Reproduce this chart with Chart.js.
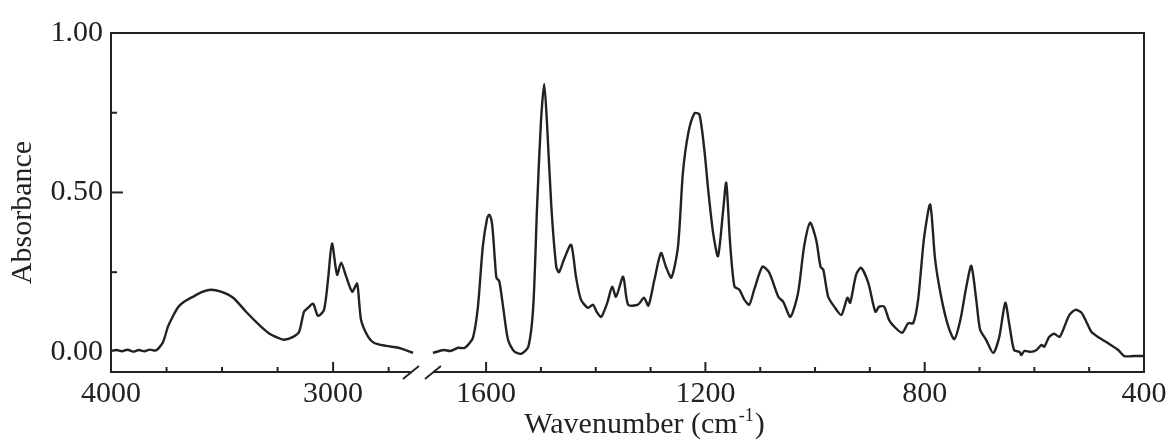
<!DOCTYPE html>
<html>
<head>
<meta charset="utf-8">
<script src="https://cdn.jsdelivr.net/npm/chart.js@4/dist/chart.umd.min.js"></script>
<style>
  body { margin: 0; background: #fff; }
  #wrap { width: 1172px; height: 445px; }
</style>
</head>
<body>
<div id="wrap"><canvas id="chart_ir"></canvas></div>
<script>
// IR spectrum, broken wavenumber axis (4000-2600 | 1717-400)

// high wavenumber part
var leftWn = [4000, 3975, 3950, 3925, 3900, 3875, 3850, 3825, 3800, 3785, 3766, 3743, 3721, 3698, 3671, 3631,
  3586, 3550, 3505, 3450, 3392, 3333, 3288, 3250, 3221, 3180, 3153, 3131, 3113, 3090, 3068, 3041, 3023, 3005,
  2982, 2964, 2941, 2914, 2892, 2874, 2842, 2815, 2761, 2707, 2670, 2640];
var leftAbs = [0.003, 0.006, 0.002, 0.007, 0.001, 0.006, 0.002, 0.007, 0.004, 0.012, 0.030, 0.080, 0.112, 0.140, 0.157, 0.173,
  0.189, 0.195, 0.189, 0.170, 0.126, 0.085, 0.058, 0.045, 0.038, 0.047, 0.063, 0.126, 0.138, 0.151, 0.113, 0.132, 0.226, 0.340,
  0.242, 0.280, 0.236, 0.189, 0.214, 0.100, 0.047, 0.028, 0.019, 0.013, 0.005, -0.003];

// fingerprint part
var rightWn = [1697, 1677, 1665, 1651, 1640, 1633, 1624, 1615, 1606, 1598, 1594, 1589, 1584, 1581, 1576, 1569, 1560, 1549,
  1536, 1523, 1514, 1507, 1500, 1494, 1489, 1481, 1472, 1467, 1458, 1445, 1436, 1427, 1414, 1405, 1398, 1390, 1379, 1370,
  1363, 1350, 1341, 1323, 1312, 1304, 1293, 1281, 1272, 1262, 1250, 1241, 1231, 1220, 1211, 1202, 1195, 1186, 1177, 1168,
  1162, 1155, 1147, 1138, 1129, 1120, 1111, 1096, 1084, 1067, 1058, 1045, 1031, 1020, 1009, 998, 990, 985, 976, 965, 952,
  941, 936, 925, 916, 903, 890, 883, 874, 865, 856, 841, 830, 821, 812, 801, 790, 781, 770, 757, 746, 735, 724, 715, 706,
  699, 688, 675, 664, 653, 646, 637, 627, 624, 618, 607, 596, 587, 582, 573, 564, 554, 545, 536, 525, 514, 505, 496, 484,
  466, 447, 436, 418, 400];
var rightAbs = [-0.003, 0.006, 0.003, 0.013, 0.012, 0.022, 0.044, 0.140, 0.330, 0.420, 0.430, 0.400, 0.290, 0.232, 0.222, 0.142, 0.038, 0.002,
  -0.006, 0.016, 0.142, 0.456, 0.720, 0.840, 0.720, 0.456, 0.267, 0.250, 0.290, 0.336, 0.235, 0.164, 0.138, 0.148, 0.125, 0.110, 0.154, 0.204,
  0.173, 0.236, 0.148, 0.148, 0.170, 0.145, 0.226, 0.310, 0.267, 0.233, 0.330, 0.562, 0.688, 0.748, 0.745, 0.635, 0.510, 0.374, 0.300, 0.437,
  0.530, 0.343, 0.205, 0.195, 0.164, 0.148, 0.195, 0.267, 0.250, 0.173, 0.157, 0.110, 0.185, 0.330, 0.405, 0.352, 0.267, 0.258, 0.173, 0.142, 0.116,
  0.170, 0.154, 0.242, 0.264, 0.217, 0.126, 0.142, 0.142, 0.100, 0.080, 0.060, 0.090, 0.090, 0.164, 0.360, 0.462, 0.290, 0.173, 0.080, 0.040, 0.100, 0.205, 0.270, 0.164,
  0.070, 0.038, -0.003, 0.047, 0.154, 0.090, 0.006, 0.000, -0.010, 0.003, 0.000, 0.006, 0.022, 0.016, 0.047, 0.057, 0.047, 0.080, 0.116, 0.132, 0.123, 0.094, 0.063, 0.047,
  0.028, 0.006, -0.013, -0.013, -0.013];

// ticks
var leftTicks = [4000, 3750, 3500, 3250, 3000, 2750];
var leftLabels = [4000, 3000];
var rightTicks = [1600, 1500, 1400, 1300, 1200, 1100, 1000, 900, 800, 700, 600, 500, 400];
var rightLabels = [1600, 1200, 800, 400];
var yTicks = [0, 0.25, 0.5, 0.75, 1.0];
var yLabels = [0, 0.5, 1.0];

var ink = '#222222';
var serif = "'Liberation Serif', 'Times New Roman', serif";

function toPoints(xs, ys) {
  var pts = [];
  for (var i = 0; i < xs.length; i++) pts.push({x: xs[i], y: ys[i]});
  return pts;
}

// frame, inward ticks, axis break and titles
var decorations = {
  id: 'decorations',
  afterDraw: function(chart) {
    var ctx = chart.ctx;
    var a = chart.chartArea;
    var xL = chart.scales.xL, xR = chart.scales.xR, y = chart.scales.y;
    ctx.save();
    ctx.strokeStyle = ink;
    ctx.lineWidth = 2;
    ctx.beginPath();
    ctx.moveTo(a.left, a.top);
    ctx.lineTo(a.right, a.top);
    ctx.lineTo(a.right, a.bottom);
    ctx.stroke();

    // y ticks pointing inward
    yTicks.forEach(function(v) {
      if (v === 0 || v === 1) return;
      var py = y.getPixelForValue(v);
      var len = yLabels.includes(v) ? 12 : 6;
      ctx.beginPath();
      ctx.moveTo(a.left, py);
      ctx.lineTo(a.left + len, py);
      ctx.stroke();
    });
    // x ticks pointing inward
    [[xL, leftTicks, leftLabels], [xR, rightTicks, rightLabels]].forEach(function(s) {
      s[1].forEach(function(v) {
        var px = s[0].getPixelForValue(v);
        if (px <= a.left + 1 || px >= a.right - 1) return;
        var len = s[2].includes(v) ? 10 : 5;
        ctx.beginPath();
        ctx.moveTo(px, a.bottom);
        ctx.lineTo(px, a.bottom - len);
        ctx.stroke();
      });
    });

    // axis break
    var bx = xL.right;
    ctx.fillStyle = '#fff';
    ctx.fillRect(bx - 11, a.bottom - 4, 22, 8);
    ctx.lineWidth = 1.8;
    [bx - 11, bx + 11].forEach(function(cx) {
      ctx.beginPath();
      ctx.moveTo(cx - 8, a.bottom + 7);
      ctx.lineTo(cx + 8, a.bottom - 6);
      ctx.stroke();
    });

    // titles
    ctx.fillStyle = ink;
    ctx.font = '30px ' + serif;
    ctx.textBaseline = 'alphabetic';
    var main = 'Wavenumber (cm';
    var sup = '-1';
    var close = ')';
    var w1 = ctx.measureText(main).width;
    var w3 = ctx.measureText(close).width;
    ctx.font = '18px ' + serif;
    var w2 = ctx.measureText(sup).width;
    var tx = (a.left + a.right) / 2 + 16 - (w1 + w2 + w3) / 2;
    var ty = 433;
    ctx.font = '30px ' + serif;
    ctx.textAlign = 'left';
    ctx.fillText(main, tx, ty);
    ctx.font = '18px ' + serif;
    ctx.fillText(sup, tx + w1 + 1, ty - 12);
    ctx.font = '30px ' + serif;
    ctx.fillText(close, tx + w1 + w2 + 2, ty);

    ctx.save();
    ctx.translate(23, (a.top + a.bottom) / 2 + 10);
    ctx.rotate(-Math.PI / 2);
    ctx.textAlign = 'center';
    ctx.textBaseline = 'middle';
    ctx.fillText('Absorbance', 0, 0);
    ctx.restore();
    ctx.restore();
  }
};

function xAxis(min, max, ticks, labels, weight) {
  return {
    type: 'linear',
    position: 'bottom',
    stack: 'wn',
    stackWeight: weight,
    reverse: true,
    min: min,
    max: max,
    grid: { display: false, drawTicks: false },
    border: { display: true, color: ink, width: 2 },
    afterBuildTicks: function(scale) {
      scale.ticks = ticks.map(function(v) { return {value: v}; });
    },
    afterFit: function(scale) { scale.height = 73; },
    ticks: {
      autoSkip: false,
      maxRotation: 0,
      padding: 4,
      color: ink,
      font: { family: serif, size: 30 },
      callback: function(v) { return labels.includes(v) ? String(v) : ''; }
    }
  };
}

var ctxIR = document.getElementById('chart_ir').getContext('2d');
var chartIR = new Chart(ctxIR, {
  type: 'line',
  data: {
    datasets: [{
      label: 'high',
      data: toPoints(leftWn, leftAbs),
      xAxisID: 'xL',
      yAxisID: 'y',
      borderColor: ink,
      borderWidth: 2.4,
      pointRadius: 0,
      tension: 0.25
    }, {
      label: 'low',
      data: toPoints(rightWn, rightAbs),
      xAxisID: 'xR',
      yAxisID: 'y',
      borderColor: ink,
      borderWidth: 2.4,
      pointRadius: 0,
      tension: 0.25
    }]
  },
  options: {
    responsive: true,
    maintainAspectRatio: false,
    animation: false,
    layout: { padding: { top: 33, right: 28, bottom: 0, left: 0 } },
    plugins: { legend: { display: false }, tooltip: { enabled: false } },
    scales: {
      xL: xAxis(2600, 4000, leftTicks, leftLabels, 1400 * 0.222),
      xR: xAxis(400, 1717, rightTicks, rightLabels, 1317 * 0.548),
      y: {
        type: 'linear',
        position: 'left',
        min: -0.063,
        max: 1.0,
        grid: { display: false, drawTicks: false },
        border: { display: true, color: ink, width: 2 },
        afterBuildTicks: function(scale) {
          scale.ticks = yTicks.map(function(v) { return {value: v}; });
        },
        afterFit: function(scale) { scale.width = 111; },
        ticks: {
          padding: 8,
          color: ink,
          font: { family: serif, size: 30 },
          callback: function(v) { return yLabels.includes(v) ? v.toFixed(2) : ''; }
        }
      }
    }
  },
  plugins: [decorations]
});
</script>
</body>
</html>
